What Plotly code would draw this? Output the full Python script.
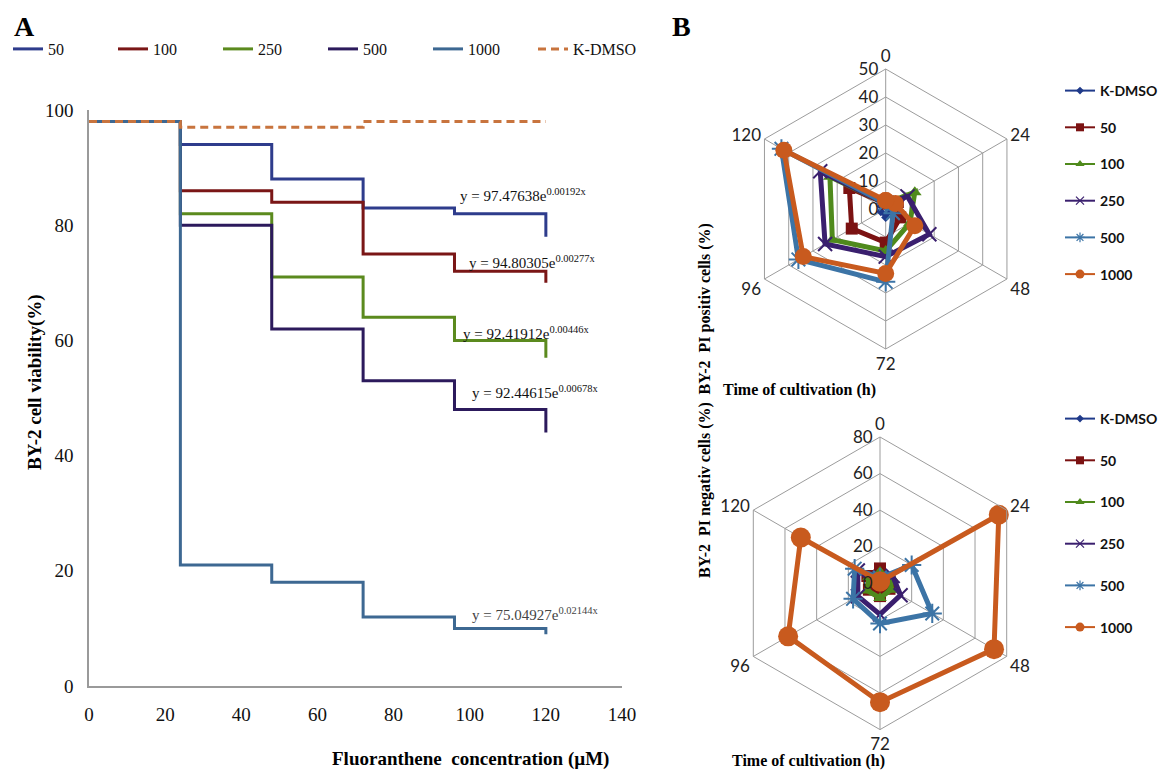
import plotly.graph_objects as go

# page is offset by the 8px body margin: work in page pixels and convert
OFF = 8
W, H = 1162, 768

# ---------------- Panel A data ----------------
conc_x = [0, 24, 48, 72, 96, 120]
series_names = ["50", "100", "250", "500", "1000", "K-DMSO"]
via_50 = [98, 94, 88, 83, 82, 78]
via_100 = [98, 86, 84, 75, 72, 70]
via_250 = [98, 82, 71, 64, 60, 57]
via_500 = [98, 80, 62, 53, 48, 44]
via_1000 = [98, 21, 18, 12, 10, 9]
via_kdmso = [98, 97, 97, 98, 98, 98]
x_ticks = [0, 20, 40, 60, 80, 100, 120, 140]
y_ticks = [0, 20, 40, 60, 80, 100]

fit_coef = ["97.47638", "94.80305", "92.41912", "92.44615", "75.04927"]
fit_exp = ["0.00192x", "0.00277x", "0.00446x", "0.00678x", "0.02144x"]
fit_x = [97.0, 99.4, 97.6, 100.0, 100.0]
fit_y = [85.2, 73.6, 61.2, 51.0, 12.5]

# ---------------- Panel B data ----------------
times = ["0", "24", "48", "72", "96", "120"]
radar_names = ["K-DMSO", "50", "100", "250", "500", "1000"]
pos_kdmso = [2, 2, 2, 3, 2, 2]
pos_50 = [2, 5, 6, 12, 14, 15]
pos_100 = [2, 12, 10, 15, 22, 23]
pos_250 = [2, 9, 18, 17, 25, 27]
pos_500 = [2, 3, 3, 26, 36, 43]
pos_1000 = [3, 4, 12, 23, 34, 42]

neg_kdmso = [3, 4, 4, 5, 4, 4]
neg_50 = [8, 6, 6, 7, 7, 8]
neg_100 = [6, 7, 7, 8, 8, 7]
neg_250 = [3, 8, 13, 17, 14, 14]
neg_500 = [3, 20, 33, 22, 17, 16]
neg_1000 = [1, 75, 72, 65, 58, 50]


def px(x):
    return (x - OFF) / W


def py(y):
    return 1 - (y - OFF) / H


SERIF = "Liberation Serif"
SANS = "Lato"

fig = go.Figure()

# Panel A lines
a_colors = ["#2E3C8C", "#7A1616", "#5B8A1E", "#2C1A5C", "#3D6892", "#C8743E"]
a_vals = [via_50, via_100, via_250, via_500, via_1000, via_kdmso]
for name, vals, col in zip(series_names, a_vals, a_colors):
    dash = "8px,5px" if name == "K-DMSO" else "solid"
    fig.add_trace(go.Scatter(
        x=conc_x, y=vals, name=name, mode="lines", line_shape="hv",
        line=dict(color=col, width=3, dash=dash),
        xaxis="x", yaxis="y", legend="legend",
    ))

# Panel B radars
b_colors = ["#1F3A8A", "#7B1212", "#4F8A1C", "#3A1F6E", "#3C74A6", "#C85A1E"]
b_symbols = ["diamond", "square", "triangle-up", "x-thin", "asterisk", "circle"]
b_sizes = [7, 12, 12, 14, 16, 17]
leg_sizes = [6, 8, 8, 8, 8, 9]
pos_vals = [pos_kdmso, pos_50, pos_100, pos_250, pos_500, pos_1000]
neg_vals = [neg_kdmso, neg_50, neg_100, neg_250, neg_500, neg_1000]

for polar_id, leg_id, vals_list, big in (("polar", "legend2", pos_vals, 17),
                                         ("polar2", "legend3", neg_vals, 20)):
    for i, (name, vals) in enumerate(zip(radar_names, vals_list)):
        size = b_sizes[i] if name != "1000" else big
        thin = b_symbols[i] in ("x-thin", "asterisk")
        fig.add_trace(go.Scatterpolar(
            r=list(vals) + [vals[0]], theta=times + [times[0]],
            name=name, mode="lines+markers", subplot=polar_id, showlegend=False,
            line=dict(color=b_colors[i], width=5 if name != "K-DMSO" else 3),
            marker=dict(symbol=b_symbols[i], size=size, color=b_colors[i],
                        line=dict(color=b_colors[i], width=2 if thin else 0)),
        ))
    # legend entries (small symbols, as in the reference legend)
    for i, name in enumerate(radar_names):
        thin = b_symbols[i] in ("x-thin", "asterisk")
        fig.add_trace(go.Scatterpolar(
            r=[None], theta=[None], name=name, mode="lines+markers", subplot=polar_id,
            legend=leg_id, legendgroup=leg_id + name, showlegend=True,
            line=dict(color=b_colors[i], width=2),
            marker=dict(symbol=b_symbols[i], size=leg_sizes[i], color=b_colors[i],
                        line=dict(color=b_colors[i], width=1.2 if thin else 0)),
        ))

# Annotations
ann = []
for c, e, xx, yy, i in zip(fit_coef, fit_exp, fit_x, fit_y, range(5)):
    ann.append(dict(x=xx, y=yy, xref="x", yref="y", xanchor="left", yanchor="middle",
                    text=f"y = {c}e<sup>{e}</sup>", showarrow=False,
                    font=dict(family=SERIF, size=15, color="#444444" if i == 4 else "#111111")))

ann += [
    dict(x=px(12), y=py(26), xref="paper", yref="paper", text="<b>A</b>", showarrow=False,
         xanchor="left", yanchor="middle", font=dict(family=SERIF, size=28, color="black")),
    dict(x=px(670), y=py(26), xref="paper", yref="paper", text="<b>B</b>", showarrow=False,
         xanchor="left", yanchor="middle", font=dict(family=SERIF, size=28, color="black")),
    dict(x=px(22), y=py(382), xref="paper", yref="paper", text="<b>BY-2 cell viability(%)</b>",
         textangle=-90, showarrow=False, font=dict(family=SERIF, size=19, color="black")),
    dict(x=px(330), y=py(772), xref="paper", yref="paper",
         text="<b>Fluoranthene  concentration (µM)</b>", showarrow=False,
         font=dict(family=SERIF, size=19, color="black")),
    dict(x=px(705), y=py(222), xref="paper", yref="paper", text="<b>BY-2  PI positiv cells (%)</b>",
         textangle=-90, showarrow=False, font=dict(family=SERIF, size=16, color="black")),
    dict(x=px(878), y=py(390), xref="paper", yref="paper", text="<b>Time of cultivation (h)</b>",
         showarrow=False, font=dict(family=SERIF, size=16, color="black")),
    dict(x=px(705), y=py(580), xref="paper", yref="paper", text="<b>BY-2  PI negativ cells (%)</b>",
         textangle=-90, showarrow=False, font=dict(family=SERIF, size=16, color="black")),
    dict(x=px(887), y=py(772), xref="paper", yref="paper", text="<b>Time of cultivation (h)</b>",
         showarrow=False, font=dict(family=SERIF, size=16, color="black")),
]

grid = "#9c9c9c"


def polar_cfg(xd, yd, rmax, dt):
    return dict(
        domain=dict(x=xd, y=yd), gridshape="linear", bgcolor="white",
        angularaxis=dict(type="category", categoryarray=times, rotation=90, direction="clockwise",
                         showline=True, linecolor=grid, linewidth=1, gridcolor=grid, gridwidth=1,
                         ticks="", tickfont=dict(family=SANS, size=17, color="#222")),
        radialaxis=dict(range=[0, rmax], dtick=dt, angle=90, tickangle=90, side="counterclockwise",
                        showline=False, gridcolor=grid, gridwidth=1, ticks="", ticksuffix=" ",
                        tickfont=dict(family=SANS, size=17, color="#222")),
    )


fig.update_layout(
    width=W, height=H, paper_bgcolor="white", plot_bgcolor="white",
    margin=dict(l=0, r=0, t=0, b=0, autoexpand=False),
    xaxis=dict(domain=[px(89), px(622)], range=[0, 140], tickvals=x_ticks, showgrid=False,
               zeroline=False, showline=True, linecolor="#9a9a9a", linewidth=1.5, ticks="",
               ticklabelstandoff=10,
               tickfont=dict(family=SERIF, size=19, color="#111"), anchor="y"),
    yaxis=dict(domain=[py(686), py(110)], range=[0, 100], tickvals=y_ticks, showgrid=False,
               zeroline=False, showline=True, linecolor="#9a9a9a", linewidth=1.5, ticks="",
               ticklabelstandoff=10,
               tickfont=dict(family=SERIF, size=19, color="#111"), anchor="x"),
    polar=polar_cfg([px(745.7), px(1025.7)], [py(349), py(69)], 50, 10),
    polar2=polar_cfg([px(733.7), px(1026.3)], [py(729.6), py(437)], 80, 20),
    legend=dict(orientation="h", x=px(8), y=py(32), xanchor="left", yanchor="top",
                font=dict(family=SERIF, size=16, color="#111"), bgcolor="rgba(0,0,0,0)",
                entrywidth=60, traceorder="normal"),
    legend2=dict(x=px(1060), y=py(75), xanchor="left", yanchor="top",
                 font=dict(family=SANS, size=14, color="#111", weight="bold"),
                 bgcolor="rgba(0,0,0,0)", tracegroupgap=15.5),
    legend3=dict(x=px(1060), y=py(403), xanchor="left", yanchor="top",
                 font=dict(family=SANS, size=14, color="#111", weight="bold"),
                 bgcolor="rgba(0,0,0,0)", tracegroupgap=20.5),
    annotations=ann,
)

fig.write_html("out.html")
